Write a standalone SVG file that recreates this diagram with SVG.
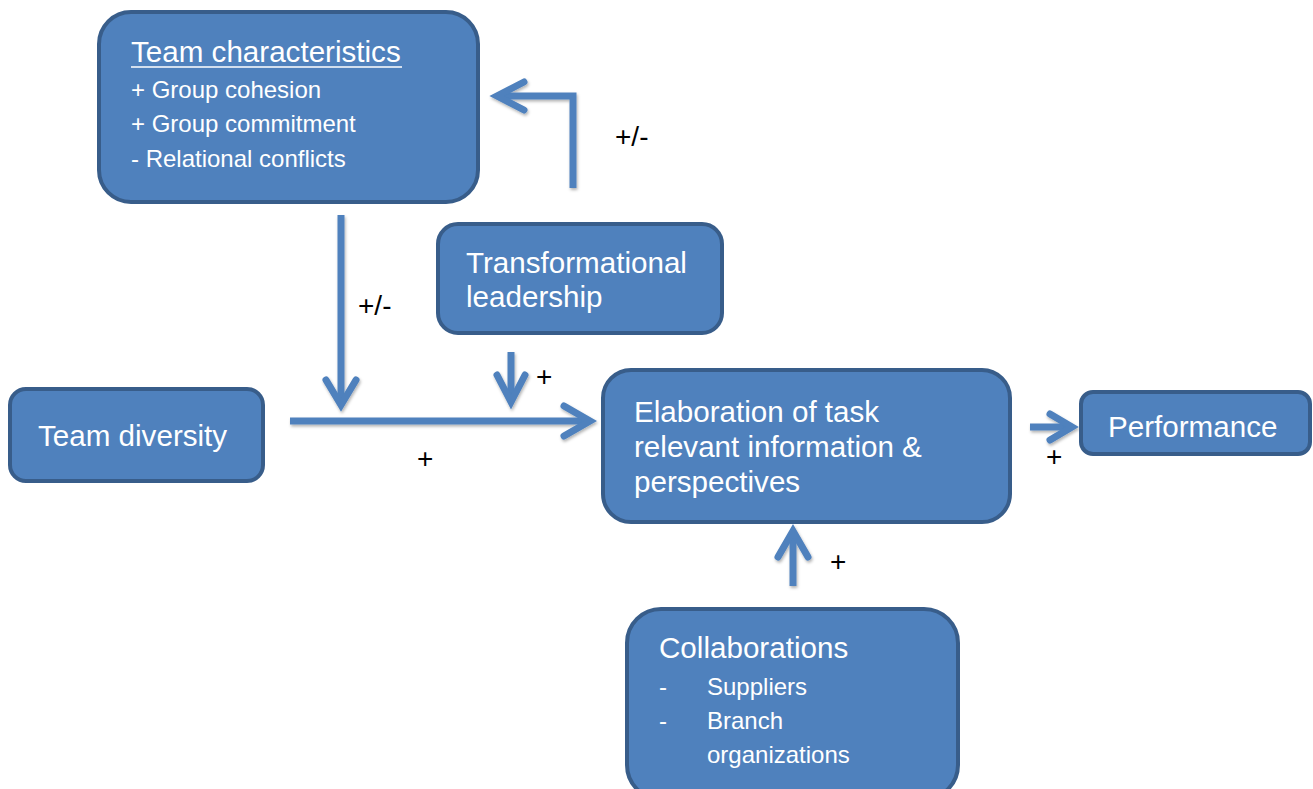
<svg xmlns="http://www.w3.org/2000/svg" width="1313" height="789" viewBox="0 0 1313 789">
  <defs>
    <filter id="shadow" x="-20%" y="-20%" width="140%" height="140%">
      <feDropShadow dx="1" dy="2" stdDeviation="1.5" flood-color="#000" flood-opacity="0.3"/>
    </filter>
  </defs>
  <style>
    .box { fill: #4F81BD; stroke: #385D8A; stroke-width: 4; }
    .title { font-family: "Liberation Sans", Arial, sans-serif; font-size: 29.6px; fill: #FFFFFF; }
    .item { font-family: "Liberation Sans", Arial, sans-serif; font-size: 24px; fill: #FFFFFF; }
    .lbl { font-family: "Liberation Sans", Arial, sans-serif; font-size: 28px; fill: #000000; }
    .conn { fill: none; stroke: #4F81BD; stroke-width: 7; stroke-linecap: round; stroke-linejoin: miter; }
    .shaft { stroke-linecap: butt; }
  </style>
  <rect width="1313" height="789" fill="#FFFFFF"/>

  <!-- connectors -->
  <g id="connectors" filter="url(#shadow)">
    <!-- leadership -> team characteristics (elbow) -->
    <path class="conn shaft" d="M573,188 V96 H498"/>
    <path class="conn" d="M524,82 L497,96 L524,110"/>
    <!-- team characteristics -> moderation of diversity link -->
    <path class="conn shaft" d="M341,215 V404"/>
    <path class="conn" d="M326,380 L341,405 L356,380"/>
    <!-- team diversity -> elaboration -->
    <path class="conn shaft" d="M290,421 H588"/>
    <path class="conn" d="M564,406 L590,421 L564,436"/>
    <!-- leadership -> moderation -->
    <path class="conn shaft" d="M511,352 V401"/>
    <path class="conn" d="M497,375 L511,402 L525,375"/>
    <!-- elaboration -> performance -->
    <path class="conn shaft" d="M1030,427 H1070"/>
    <path class="conn" d="M1050,414 L1072,427 L1050,440"/>
    <!-- collaborations -> elaboration -->
    <path class="conn shaft" d="M793,586 V533"/>
    <path class="conn" d="M778,557 L793,531 L808,557"/>
  </g>

  <!-- connector labels -->
  <g id="labels">
    <text class="lbl" x="615" y="146">+/-</text>
    <text class="lbl" x="358" y="315">+/-</text>
    <text class="lbl" x="536" y="386">+</text>
    <text class="lbl" x="417" y="468">+</text>
    <text class="lbl" x="1046" y="466">+</text>
    <text class="lbl" x="830" y="571">+</text>
  </g>

  <g id="team-characteristics">
    <rect class="box" x="99" y="12" width="379" height="190" rx="32"/>
    <text class="title" x="131" y="62">Team characteristics</text>
    <line x1="131" y1="67" x2="402" y2="67" stroke="#FFFFFF" stroke-width="1.5"/>
    <text class="item" x="131" y="98">+ Group cohesion</text>
    <text class="item" x="131" y="132">+ Group commitment</text>
    <text class="item" x="131" y="167">- Relational conflicts</text>
  </g>

  <g id="transformational-leadership">
    <rect class="box" x="438" y="224" width="284" height="109" rx="20"/>
    <text class="title" x="466" y="273">Transformational</text>
    <text class="title" x="466" y="307">leadership</text>
  </g>

  <g id="team-diversity">
    <rect class="box" x="10" y="389" width="253" height="92" rx="16"/>
    <text class="title" x="38" y="446">Team diversity</text>
  </g>

  <g id="elaboration">
    <rect class="box" x="603" y="370" width="407" height="152" rx="28"/>
    <text class="title" x="634" y="422">Elaboration of task</text>
    <text class="title" x="634" y="457">relevant information &amp;</text>
    <text class="title" x="634" y="492">perspectives</text>
  </g>

  <g id="performance">
    <rect class="box" x="1081" y="392" width="229" height="62" rx="12"/>
    <text class="title" x="1108" y="437">Performance</text>
  </g>

  <g id="collaborations">
    <rect class="box" x="627" y="609" width="331" height="190" rx="34"/>
    <text class="title" x="659" y="658">Collaborations</text>
    <text class="item" x="659" y="695">-</text>
    <text class="item" x="707" y="695">Suppliers</text>
    <text class="item" x="659" y="729">-</text>
    <text class="item" x="707" y="729">Branch</text>
    <text class="item" x="707" y="763">organizations</text>
  </g>
</svg>
